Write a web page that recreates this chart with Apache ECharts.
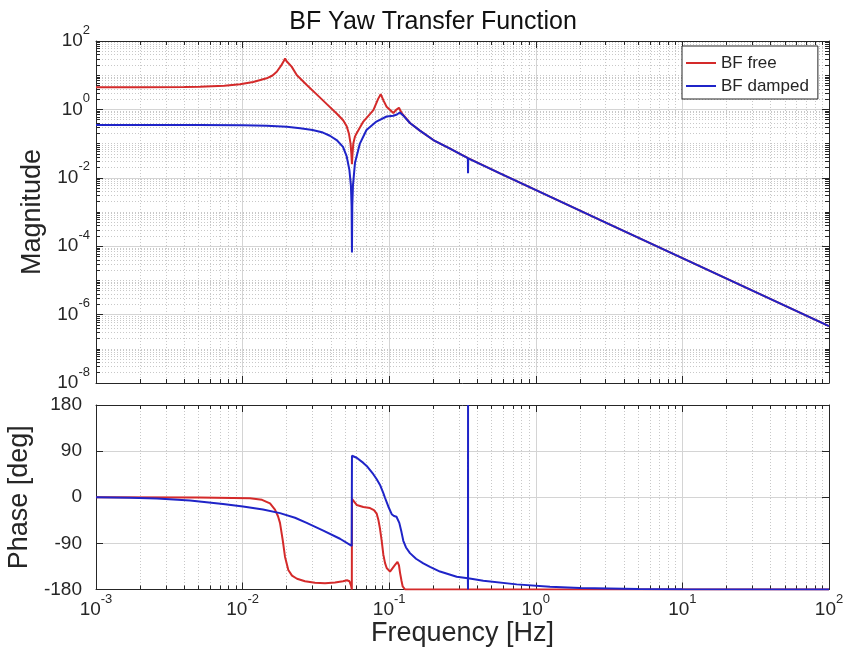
<!DOCTYPE html>
<html>
<head>
<meta charset="utf-8">
<script src="https://cdn.jsdelivr.net/npm/echarts@6/dist/echarts.min.js"></script>
<style>
  html, body { margin: 0; padding: 0; background: #ffffff; }
  #chart { width: 858px; height: 649px; }
</style>
</head>
<body>
<div id="chart"></div>
<script>
// Bode plot of the BF yaw transfer function, free vs damped.

// Tick positions
const freqTicks = [1e-3, 1e-2, 1e-1, 1, 10, 100];
const magTicks = [1e-8, 1e-6, 1e-4, 1e-2, 1, 100];
const phaseTicks = [-180, -90, 0, 90, 180];

// Magnitude, [frequency Hz, |H|]
const freeMag = [
  [0.001, 4.43], [0.002, 4.43], [0.004, 4.5], [0.0051, 4.6], [0.0075, 4.95],
  [0.0096, 5.4], [0.0118, 6.3], [0.0146, 8.1], [0.016, 9.8], [0.0171, 12.6],
  [0.0183, 19], [0.0191, 26], [0.0195, 31], [0.0199, 26], [0.0216, 17.8],
  [0.0234, 10.1], [0.0274, 5.2], [0.032, 2.75], [0.0374, 1.45], [0.0438, 0.76],
  [0.0485, 0.48], [0.0513, 0.32], [0.0532, 0.19], [0.0545, 0.1], [0.0552, 0.05],
  [0.0557, 0.025], [0.0562, 0.05], [0.0569, 0.1], [0.0584, 0.16], [0.060, 0.2],
  [0.0666, 0.44], [0.078, 0.95], [0.0839, 2.0], [0.0875, 2.8], [0.0915, 1.8],
  [0.096, 1.2], [0.1067, 0.78], [0.111, 0.95], [0.1166, 1.12], [0.1217, 0.78],
  [0.1386, 0.40], [0.162, 0.24], [0.2, 0.127], [0.26, 0.071], [0.345, 0.0375],
  [0.57, 0.0135], [1.25, 0.0028], [3, 4.9e-4], [10, 4.5e-5], [100, 4.6e-7]
];
const dampedMag = [
  [0.001, 0.35], [0.005, 0.35], [0.01, 0.345], [0.0146, 0.335], [0.02, 0.31],
  [0.0247, 0.28], [0.03, 0.25], [0.0353, 0.21], [0.0394, 0.17], [0.0438, 0.127],
  [0.0484, 0.08], [0.0513, 0.042], [0.0535, 0.017], [0.0548, 0.006], [0.0554, 0.0015],
  [0.0557, 6.5e-5], [0.0560, 0.0015], [0.0566, 0.006], [0.0575, 0.0126], [0.0584, 0.027],
  [0.0631, 0.10], [0.070, 0.25], [0.0818, 0.44], [0.096, 0.62], [0.1067, 0.65],
  [0.113, 0.71], [0.118, 0.81], [0.124, 0.68], [0.1386, 0.40], [0.162, 0.24],
  [0.2, 0.127], [0.26, 0.071], [0.3440, 0.0375], [0.3450, 0.0136], [0.3460, 0.0372],
  [0.57, 0.0135], [1.25, 0.0028], [3, 4.9e-4], [10, 4.5e-5], [100, 4.6e-7]
];

// Phase, [frequency Hz, degrees]
const freePhase = [
  [0.001, 0], [0.005, -0.5], [0.01123, -2], [0.01356, -5], [0.01538, -12],
  [0.01663, -24], [0.01744, -37], [0.01799, -50], [0.01877, -83], [0.01946, -116],
  [0.0205, -142], [0.02173, -153], [0.0235, -159], [0.02664, -164], [0.03118, -167],
  [0.03649, -168], [0.04269, -166.5], [0.0484, -164], [0.05153, -162], [0.0536, -164],
  [0.05487, -172], [0.0556, -180], [0.0557, -3], [0.060, -15], [0.0666, -19],
  [0.074, -21], [0.0787, -25], [0.0822, -32], [0.0845, -45], [0.0866, -62],
  [0.0889, -85], [0.0912, -112], [0.0936, -128], [0.0961, -138], [0.1013, -145],
  [0.1045, -144], [0.1096, -132], [0.1139, -126], [0.1166, -133], [0.1185, -147],
  [0.1213, -163], [0.1236, -174], [0.1282, -180], [100, -180]
];
const dampedPhase = [
  [0.001, 0], [0.001706, -1], [0.002607, -2.5], [0.004377, -6.5], [0.007348, -13],
  [0.01006, -18], [0.01378, -24], [0.01799, -31], [0.02277, -40], [0.02736, -50],
  [0.03552, -65], [0.04617, -81], [0.05548, -95], [0.0557, -96], [0.05572, 81],
  [0.060, 77], [0.0666, 67], [0.0702, 61], [0.0779, 45], [0.0822, 35],
  [0.0866, 24], [0.0912, 8], [0.0936, -1], [0.0986, -18], [0.104, -33],
  [0.1078, -36.5], [0.1121, -38], [0.1172, -50], [0.1213, -68], [0.1248, -85],
  [0.1302, -98], [0.1386, -109], [0.1524, -120], [0.1709, -129], [0.1898, -136],
  [0.2221, -145], [0.2887, -155], [0.3440, -158], [0.3448, -180], [0.3450, 180],
  [0.3452, -158], [0.4385, -163], [0.741, -170], [1.25, -174.5], [2, -177],
  [5, -179], [10, -179.5], [100, -180]
];

const FONT = '"Liberation Sans", Arial, Helvetica, sans-serif';
const INK = '#262626';
const RED = '#d42a2a';
const BLUE = '#1f24c8';
const GRID_MAJOR = { color: '#d4d4d4', width: 1, type: 'solid' };
const GRID_MINOR = { color: '#c8c8c8', width: 1, type: [1, 2] };

// Minor log positions (2..9 x 10^e) plus the decades without a label
function minorLog(decades, extraDecades) {
  const out = [];
  for (let i = 0; i < decades.length - 1; i++) {
    const base = decades[i];
    for (let m = 2; m <= 9; m++) out.push(parseFloat((m * base).toPrecision(6)));
  }
  return out.concat(extraDecades);
}
const freqDecades = [1e-3, 1e-2, 1e-1, 1, 10, 100];
const magDecades = [1e-8, 1e-7, 1e-6, 1e-5, 1e-4, 1e-3, 1e-2, 1e-1, 1, 10, 100];
const freqMinor = minorLog(freqDecades, []);
const magMinor = minorLog(magDecades, magDecades.filter(v => magTicks.indexOf(v) < 0));

const powLabel = v => '{b|10}{s|' + Math.round(Math.log10(v)) + '}';
const xRich = {
  b: { fontSize: 19, fontFamily: FONT, color: INK, padding: [8, 0, 0, 0] },
  s: { fontSize: 13, fontFamily: FONT, color: INK, lineHeight: 13, verticalAlign: 'top' }
};
const yRich = {
  b: { fontSize: 19, fontFamily: FONT, color: INK, padding: [8, 0, 8, 0] },
  s: { fontSize: 13, fontFamily: FONT, color: INK, lineHeight: 13, verticalAlign: 'top' }
};
const nameStyle = { fontSize: 27, fontFamily: FONT, color: INK };

function freqAxis(gridIndex, position, major, withLabels) {
  const ax = {
    type: 'log', logBase: 10, gridIndex, position, min: 1e-3, max: 100,
    axisLine: { show: major, onZero: false, lineStyle: { color: INK, width: 1 } },
    axisTick: { show: true, inside: true, length: major ? 7 : 4,
                customValues: major ? freqTicks : freqMinor,
                lineStyle: { color: INK, width: 1 } },
    axisLabel: { show: false },
    splitLine: { show: position === 'bottom', lineStyle: major ? GRID_MAJOR : GRID_MINOR },
    minorTick: { show: false }, minorSplitLine: { show: false },
    axisPointer: { show: false }
  };
  if (withLabels) {
    ax.axisLabel = { show: true, margin: 3, customValues: freqTicks, formatter: powLabel, rich: xRich };
    ax.name = 'Frequency [Hz]';
    ax.nameLocation = 'middle';
    ax.nameGap = 26;
    ax.nameTextStyle = nameStyle;
  }
  return ax;
}

function magAxis(position, major, withLabels) {
  const ax = {
    type: 'log', logBase: 10, gridIndex: 0, position, min: 1e-8, max: 100,
    axisLine: { show: major, onZero: false, lineStyle: { color: INK, width: 1 } },
    axisTick: { show: true, inside: true, length: major ? 7 : 4,
                customValues: major ? magTicks : magMinor,
                lineStyle: { color: INK, width: 1 } },
    axisLabel: { show: false },
    splitLine: { show: position === 'left', lineStyle: major ? GRID_MAJOR : GRID_MINOR },
    minorTick: { show: false }, minorSplitLine: { show: false }
  };
  if (withLabels) {
    ax.axisLabel = { show: true, margin: 6, customValues: magTicks, formatter: powLabel, rich: yRich };
    ax.name = 'Magnitude';
    ax.nameLocation = 'middle';
    ax.nameRotate = 90;
    ax.nameGap = 49;
    ax.nameTextStyle = nameStyle;
  }
  return ax;
}

function phaseAxis(position, withLabels) {
  const ax = {
    type: 'value', gridIndex: 1, position, min: -180, max: 180, interval: 90,
    axisLine: { show: true, onZero: false, lineStyle: { color: INK, width: 1 } },
    axisTick: { show: true, inside: true, length: 7, customValues: phaseTicks,
                lineStyle: { color: INK, width: 1 } },
    axisLabel: { show: false },
    splitLine: { show: position === 'left', lineStyle: GRID_MAJOR },
    minorTick: { show: false }
  };
  if (withLabels) {
    ax.axisLabel = { show: true, margin: 14, customValues: phaseTicks,
                     fontSize: 19, fontFamily: FONT, color: INK };
    ax.name = 'Phase [deg]';
    ax.nameLocation = 'middle';
    ax.nameRotate = 90;
    ax.nameGap = 49;
    ax.nameTextStyle = nameStyle;
  }
  return ax;
}

function lineSeries(name, color, xi, yi, data) {
  return {
    name, type: 'line', xAxisIndex: xi, yAxisIndex: yi, data,
    showSymbol: false, symbol: 'none', smooth: false, clip: true,
    lineStyle: { color, width: 2 }, itemStyle: { color },
    emphasis: { disabled: true }, animation: false
  };
}

const chart = echarts.init(document.getElementById('chart'), null, { renderer: 'canvas' });
chart.setOption({
  backgroundColor: '#ffffff',
  animation: false,
  title: {
    text: 'BF Yaw Transfer Function',
    left: 428, top: 5, textAlign: 'center',
    textStyle: { fontSize: 25, fontWeight: 'normal', fontFamily: FONT, color: '#111111' }
  },
  legend: {
    data: ['BF free', 'BF damped'],
    orient: 'vertical', left: 682, top: 46,
    icon: 'rect', itemWidth: 30, itemHeight: 2, itemGap: 3,
    padding: [7, 9, 3, 4],
    backgroundColor: '#ffffff', borderColor: INK, borderWidth: 1, borderRadius: 0,
    selectedMode: false,
    textStyle: { fontSize: 17, lineHeight: 20, fontFamily: FONT, color: INK }
  },
  grid: [
    { left: 96, top: 41, width: 733, height: 342, outerBoundsMode: 'none', containLabel: false },
    { left: 96, top: 405, width: 733, height: 184.5, outerBoundsMode: 'none', containLabel: false }
  ],
  xAxis: [
    freqAxis(0, 'bottom', true, false),
    freqAxis(0, 'bottom', false, false),
    freqAxis(0, 'top', true, false),
    freqAxis(0, 'top', false, false),
    freqAxis(1, 'bottom', true, true),
    freqAxis(1, 'bottom', false, false),
    freqAxis(1, 'top', true, false),
    freqAxis(1, 'top', false, false)
  ],
  yAxis: [
    magAxis('left', true, true),
    magAxis('left', false, false),
    magAxis('right', true, false),
    magAxis('right', false, false),
    phaseAxis('left', true),
    phaseAxis('right', false)
  ],
  series: [
    lineSeries('BF free', RED, 0, 0, freeMag),
    lineSeries('BF damped', BLUE, 0, 0, dampedMag),
    lineSeries('BF free', RED, 4, 4, freePhase),
    lineSeries('BF damped', BLUE, 4, 4, dampedPhase)
  ]
});
</script>
</body>
</html>
